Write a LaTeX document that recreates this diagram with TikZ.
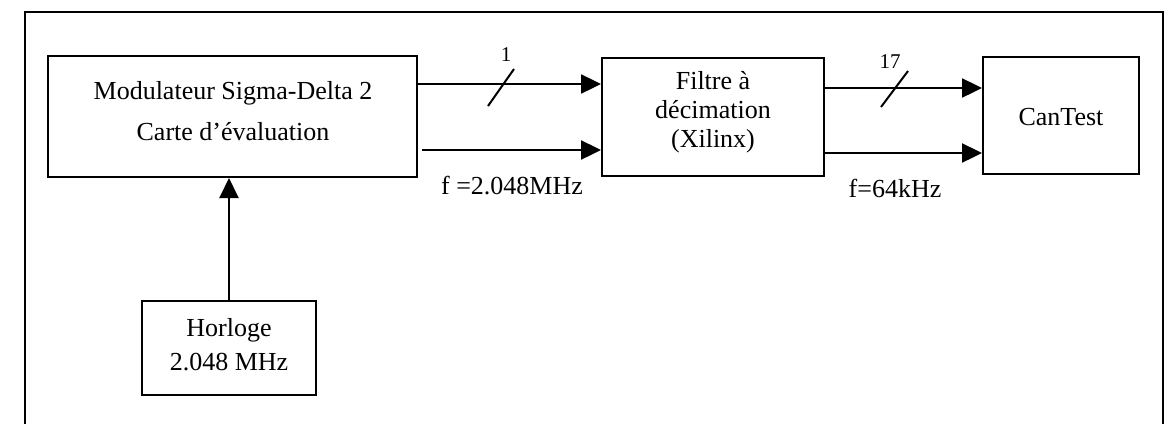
\documentclass[tikz,border=0pt]{standalone}
\usepackage{fontspec}
\setmainfont{Liberation Serif}
\usetikzlibrary{arrows.meta}
\begin{document}
\begin{tikzpicture}[x=1pt,y=-1pt,
  blk/.style={draw, line width=2pt, inner sep=0pt},
  txt/.style={font=\fontsize{26}{29}\selectfont, align=center, inner sep=0pt},
  small/.style={font=\fontsize{21}{24}\selectfont, inner sep=0pt},
  conn/.style={line width=2.4pt, -{Triangle[length=20pt,width=19pt]}},
  bus/.style={line width=2pt}]
\useasboundingbox (0,0) rectangle (1173,424);
% frame
\draw[line width=2pt] (25,424) -- (25,12) -- (1163,12) -- (1163,424);
% boxes
\node[blk, minimum width=369pt, minimum height=121pt] (mod) at (232.5,116.5) {};
\node[blk, minimum width=222pt, minimum height=118pt] (fil) at (713,117) {};
\node[blk, minimum width=156pt, minimum height=117pt] (can) at (1061,115.5) {};
\node[blk, minimum width=174pt, minimum height=94pt] (clk) at (229,348) {};
% texts
\node[txt, font=\fontsize{26}{41}\selectfont] (modt) at (233,111.5) {Modulateur Sigma-Delta 2\\Carte d’évaluation};
\node[txt] (filt) at (713,112) {Filtre à\\décimation\\(Xilinx)};
\node[txt] (cant) at (1061,117.5) {CanTest};
\node[txt, font=\fontsize{26}{34}\selectfont] (clkt) at (229,345) {Horloge\\2.048 MHz};
% connector levels
\coordinate (ya) at (0,84);
\coordinate (yb) at (0,150);
\coordinate (yc) at (0,88);
\coordinate (yd) at (0,153);
\draw[conn] (mod.east |- ya) -- (fil.west |- ya);
\draw[conn] ([xshift=4pt]mod.east |- yb) -- (fil.west |- yb);
\draw[conn] (fil.east |- yc) -- (can.west |- yc);
\draw[conn] (fil.east |- yd) -- (can.west |- yd);
\draw[conn, line width=2pt] (clk.north) -- (clk.north |- mod.south);
% bus slashes
\draw[bus] (488,106) -- (514,69);
\draw[bus] (881,107) -- (908,71);
% labels
\node[small] (l1) at (506,55) {1};
\node[small] (l17) at (890,62) {17};
\node[txt] (f1) at (512,186) {f =2.048MHz};
\node[txt] (f2) at (895,188) {f=64kHz};
\end{tikzpicture}
\end{document}
